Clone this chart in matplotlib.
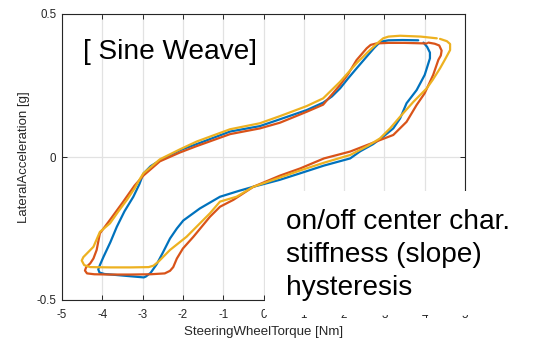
import matplotlib
matplotlib.use("Agg")
import matplotlib.pyplot as plt
from matplotlib.patches import Rectangle

plt.rcParams['font.family'] = ['Liberation Sans', 'DejaVu Sans']
plt.rcParams['axes.unicode_minus'] = False

# ---- data ----
blue_x = [3.97, 4.06, 4.13, 4.13, 4.00, 3.80, 3.55, 3.39, 3.22, 2.97, 2.72, 2.40, 2.15, 1.50, 0.91, 0.40,
          -0.25, -0.60, -1.08, -1.58, -1.99, -2.15, -2.32, -2.50, -2.65, -2.80, -2.92, -2.97, -3.30, -3.70,
          -3.95, -4.07, -4.10, -4.06, -3.97, -3.80, -3.64, -3.45, -3.23, -3.08, -2.98, -2.80, -2.57, -2.07,
          -1.66, -0.83, -0.09, 0.41, 1.07, 1.48, 1.70, 1.90, 2.10, 2.31, 2.56, 2.75, 2.90, 3.10, 3.45, 3.84]
blue_y = [0.400, 0.385, 0.365, 0.345, 0.287, 0.234, 0.188, 0.135, 0.100, 0.071, 0.045, 0.020, -0.005, -0.030,
          -0.057, -0.080, -0.104, -0.118, -0.139, -0.180, -0.222, -0.250, -0.285, -0.335, -0.375, -0.405,
          -0.418, -0.421, -0.417, -0.412, -0.409, -0.404, -0.393, -0.378, -0.349, -0.298, -0.244, -0.190,
          -0.139, -0.095, -0.058, -0.032, -0.012, 0.024, 0.045, 0.089, 0.108, 0.132, 0.164, 0.190, 0.212,
          0.240, 0.275, 0.310, 0.351, 0.382, 0.403, 0.408, 0.409, 0.408]

red_x = [4.09, 4.25, 4.36, 4.42, 4.40, 4.34, 4.21, 4.00, 3.80, 3.55, 3.22, 2.72, 2.15, 1.50, 0.91, 0.41,
         -0.25, -0.75, -1.08, -1.33, -1.74, -2.00, -2.15, -2.24, -2.32, -2.45, -2.80, -3.30, -3.80, -4.20,
         -4.38, -4.43, -4.40, -4.30, -4.22, -4.14, -4.06, -3.81, -3.50, -3.20, -2.98, -2.57, -2.07, -1.66,
         -0.83, -0.09, 0.41, 1.07, 1.48, 1.90, 2.10, 2.31, 2.45, 2.56, 2.66, 2.80, 3.10, 3.50, 4.05]
red_y = [0.400, 0.396, 0.390, 0.372, 0.355, 0.340, 0.287, 0.223, 0.182, 0.123, 0.077, 0.050, 0.019, -0.005,
         -0.040, -0.065, -0.104, -0.150, -0.174, -0.209, -0.279, -0.320, -0.355, -0.385, -0.398, -0.407,
         -0.410, -0.411, -0.411, -0.410, -0.407, -0.397, -0.385, -0.372, -0.355, -0.325, -0.267, -0.220,
         -0.160, -0.100, -0.065, -0.015, 0.016, 0.038, 0.080, 0.100, 0.120, 0.158, 0.183, 0.252, 0.290,
         0.339, 0.362, 0.380, 0.392, 0.397, 0.399, 0.399, 0.397]

yellow_x = [4.38, 4.55, 4.63, 4.63, 4.50, 4.38, 4.20, 4.05, 3.72, 3.39, 3.14, 2.89, 2.60, 2.15, 1.50, 0.91,
            0.40, -0.25, -0.67, -1.08, -1.33, -1.91, -2.32, -2.60, -2.73, -2.85, -3.30, -3.80, -4.30, -4.45,
            -4.51, -4.47, -4.22, -4.06, -3.81, -3.60, -3.39, -3.20, -3.06, -2.98, -2.57, -2.07, -1.66, -0.83,
            -0.09, 0.41, 1.07, 1.48, 1.90, 2.31, 2.56, 2.80, 2.97, 3.10, 3.39, 3.90, 4.30]
yellow_y = [0.413, 0.405, 0.395, 0.374, 0.340, 0.310, 0.270, 0.240, 0.193, 0.141, 0.100, 0.065, 0.040, 0.007,
            -0.020, -0.047, -0.072, -0.104, -0.139, -0.156, -0.197, -0.279, -0.325, -0.365, -0.380, -0.385,
            -0.386, -0.386, -0.385, -0.378, -0.362, -0.350, -0.314, -0.262, -0.232, -0.190, -0.150, -0.110,
            -0.075, -0.057, -0.008, 0.027, 0.054, 0.097, 0.118, 0.143, 0.178, 0.205, 0.263, 0.328, 0.363,
            0.395, 0.415, 0.421, 0.424, 0.421, 0.415]

x_ticks = [-5, -4, -3, -2, -1, 0, 1, 2, 3, 4, 5]
y_ticks = [-0.5, 0, 0.5]
y_tick_labels = ['-0.5', '0', '0.5']
title_text = '[ Sine Weave]'
note_lines = ['on/off center char.', 'stiffness (slope)', 'hysteresis']

W, H = 533, 339
fig = plt.figure(figsize=(W / 100, H / 100), dpi=100)
ax = fig.add_axes([62 / W, 1 - 300 / H, (465 - 62) / W, (300 - 14) / H])

for xs, ys, c in [(blue_x, blue_y, '#0072BD'), (red_x, red_y, '#D95319'), (yellow_x, yellow_y, '#EDB120')]:
    ax.plot(xs, ys, color=c, lw=1.6, solid_joinstyle='round', solid_capstyle='round')

ax.set_xlim(-5, 5)
ax.set_ylim(-0.5, 0.5)
ax.set_xticks(x_ticks)
ax.set_xticklabels([str(t) for t in x_ticks])
ax.set_yticks(y_ticks)
ax.set_yticklabels(y_tick_labels)
ax.grid(True, color='#e2e2e2', lw=0.9)
ax.set_axisbelow(True)
ax.tick_params(direction='in', length=3.5, width=0.7, top=True, right=True,
               labelsize=8.3, colors='#262626')
ax.tick_params(axis='x', pad=6.5)
ax.tick_params(axis='y', pad=4)
for s in ax.spines.values():
    s.set_color('#262626')
    s.set_linewidth(0.8)
ax.set_xlabel('SteeringWheelTorque [Nm]', fontsize=9.5, color='#262626', labelpad=3.5)
ax.set_ylabel('LateralAcceleration [g]', fontsize=9.5, color='#262626', labelpad=5)

fig.text(83 / W, 1 - 59 / H, title_text, fontsize=20.2, color='black', ha='left', va='baseline')

# white overlay box with annotation text
fig.add_artist(Rectangle((265 / W, 1 - 315 / H), (W - 265) / W, (315 - 191) / H,
                         transform=fig.transFigure, facecolor='white', edgecolor='none', zorder=5))
baselines = [229, 262, 295]
for line, b in zip(note_lines, baselines):
    fig.text(286 / W, 1 - b / H, line, fontsize=20.2, color='black', ha='left', va='baseline', zorder=6)

fig.savefig('out.png', dpi=100)
